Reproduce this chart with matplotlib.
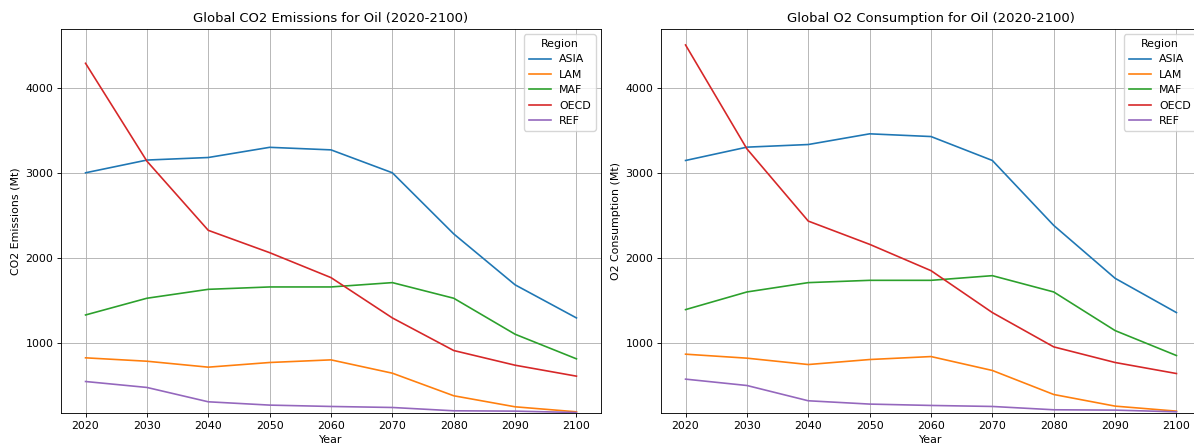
import matplotlib
matplotlib.use("Agg")
import matplotlib.pyplot as plt

years = [2020, 2030, 2040, 2050, 2060, 2070, 2080, 2090, 2100]
regions = ["ASIA", "LAM", "MAF", "OECD", "REF"]

co2_asia = [3000, 3150, 3180, 3300, 3270, 3000, 2280, 1680, 1290]
co2_lam = [820, 780, 710, 765, 796, 639, 373, 243, 184]
co2_maf = [1325, 1522, 1627, 1655, 1655, 1706, 1522, 1098, 808]
co2_oecd = [4290, 3137, 2322, 2059, 1765, 1290, 906, 733, 604]
co2_ref = [541, 471, 302, 263, 247, 235, 196, 192, 176]

o2_asia = [3145, 3302, 3333, 3459, 3427, 3145, 2380, 1757, 1353]
o2_lam = [863, 816, 741, 800, 835, 671, 388, 251, 192]
o2_maf = [1388, 1596, 1706, 1733, 1733, 1788, 1596, 1141, 847]
o2_oecd = [4506, 3282, 2431, 2157, 1847, 1353, 949, 765, 635]
o2_ref = [569, 494, 314, 275, 259, 247, 208, 204, 184]

co2_series = [co2_asia, co2_lam, co2_maf, co2_oecd, co2_ref]
o2_series = [o2_asia, o2_lam, o2_maf, o2_oecd, o2_ref]

colors = ["#1f77b4", "#ff7f0e", "#2ca02c", "#d62728", "#9467bd"]

W, H = 1194, 444
fig = plt.figure(figsize=(W / 100, H / 100), dpi=100)

def ax_at(x0, x1, ytop, ybot):
    return fig.add_axes([x0 / W, (H - ybot) / H, (x1 - x0) / W, (ybot - ytop) / H])

ax1 = ax_at(61, 601, 29, 413)
ax2 = ax_at(661, 1201, 29, 413)

panels = [
    (ax1, co2_series, "Global CO2 Emissions for Oil (2020-2100)", "CO2 Emissions (Mt)"),
    (ax2, o2_series, "Global O2 Consumption for Oil (2020-2100)", "O2 Consumption (Mt)"),
]

s = 0.79
for ax, series, title, ylabel in panels:
    for name, vals, c in zip(regions, series, colors):
        ax.plot(years, vals, color=c, linewidth=1.5 * s, label=name)
    ax.set_title(title, fontsize=12 * s, pad=6 * s)
    ax.set_xlabel("Year", fontsize=10 * s, labelpad=4 * s)
    ax.set_ylabel(ylabel, fontsize=10 * s, labelpad=4 * s)
    ax.set_xticks(years)
    ax.set_xlim(2016, 2104)
    ax.set_ylim(170, 4694)
    ax.set_yticks([1000, 2000, 3000, 4000])
    ax.tick_params(labelsize=10 * s, length=3.5 * s, width=0.8 * s, pad=3.5 * s)
    for sp in ax.spines.values():
        sp.set_linewidth(0.8 * s)
    ax.grid(True, color="#b0b0b0", linewidth=0.8 * s)
    ax.legend(title="Region", loc="upper right", fontsize=10 * s, title_fontsize=10 * s)

fig.savefig("out.png", dpi=100)
